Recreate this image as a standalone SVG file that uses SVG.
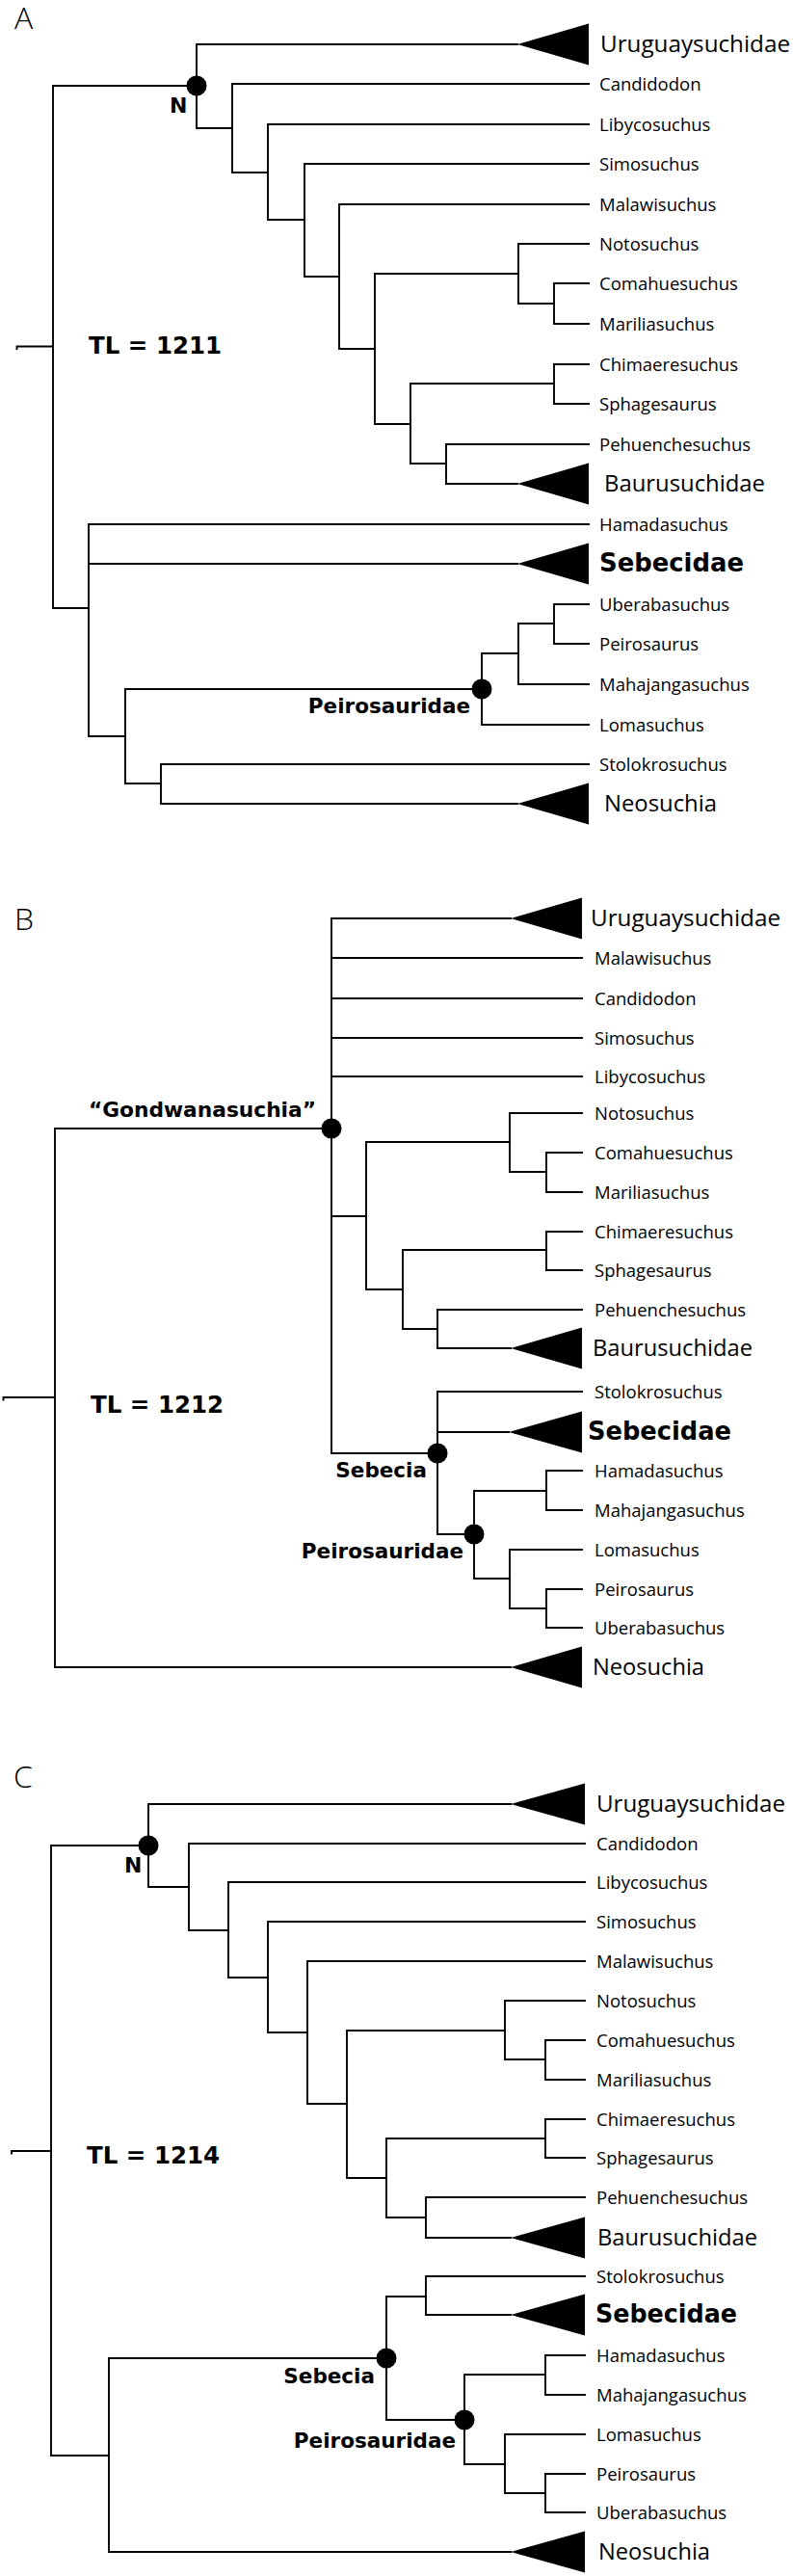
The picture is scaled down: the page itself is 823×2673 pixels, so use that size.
<svg xmlns="http://www.w3.org/2000/svg" width="823" height="2673" viewBox="0 0 823 2673">
<style>
.br{fill:none;stroke:#000;stroke-width:1.9;stroke-linecap:square}
.tri{fill:#000}
.dot{fill:#000}
.lf{font-family:"Open Sans","DejaVu Sans",sans-serif;font-size:18.5px;fill:#000}
.big{font-family:"Open Sans","DejaVu Sans",sans-serif;font-size:24px;fill:#000}
.bd{font-family:"DejaVu Sans","Liberation Sans",sans-serif;font-weight:bold;fill:#000}
.cl{font-size:21.5px}
.pl{font-family:"Open Sans","DejaVu Sans",sans-serif;font-size:32px;font-weight:300;fill:#000}
</style>
<rect width="823" height="2673" fill="#fff"/>

<!-- ================= PANEL A ================= -->
<g id="connectors-A" class="br">
<path d="M17.5,362 V359.5 H55 M55,89 V631 M55,89 H204 M55,631 H92"/>
<path d="M204,46 V133 M204,46 H537 M204,133 H241"/>
<path d="M241,87 V179 M241,87 H611 M241,179 H278"/>
<path d="M278,129 V228 M278,129 H611 M278,228 H316"/>
<path d="M316,170 V287 M316,170 H611 M316,287 H352"/>
<path d="M352,212 V362 M352,212 H611 M352,362 H389"/>
<path d="M389,284 V440 M389,284 H538 M389,440 H426"/>
<path d="M538,253 V315 M538,253 H611 M538,315 H575"/>
<path d="M575,294 V336 M575,294 H611 M575,336 H611"/>
<path d="M426,398 V481 M426,398 H575 M426,481 H463"/>
<path d="M575,378 V419 M575,378 H611 M575,419 H611"/>
<path d="M463,461 V502 M463,461 H611 M463,502 H537"/>
<path d="M92,544 V764 M92,544 H611 M92,585 H537 M92,764 H130"/>
<path d="M130,715 V813 M130,715 H500 M130,813 H167"/>
<path d="M500,678 V752 M500,678 H538 M500,752 H611"/>
<path d="M538,647 V710 M538,647 H575 M538,710 H611"/>
<path d="M575,627 V668 M575,627 H611 M575,668 H611"/>
<path d="M167,793 V834 M167,793 H611 M167,834 H537"/>
</g>
<text class="pl" x="15" y="30">A</text>
<text class="bd" x="92" y="367" font-size="24.5">TL = 1211</text>
<g id="A-node-N"><circle class="dot" cx="204" cy="89" r="10.5"/><text class="bd" x="176" y="117" font-size="22">N</text></g>
<g id="A-node-Peirosauridae"><circle class="dot" cx="500" cy="715" r="10.5"/><text class="bd cl" x="488" y="740" text-anchor="end">Peirosauridae</text></g>
<g id="A-Uruguaysuchidae"><polygon class="tri" points="537,46 611,24.5 611,67.5"/><text class="big" x="623" y="54" textLength="197" lengthAdjust="spacingAndGlyphs">Uruguaysuchidae</text></g>
<g id="A-Candidodon"><text class="lf" x="622" y="93.5">Candidodon</text></g>
<g id="A-Libycosuchus"><text class="lf" x="622" y="135.5">Libycosuchus</text></g>
<g id="A-Simosuchus"><text class="lf" x="622" y="176.5">Simosuchus</text></g>
<g id="A-Malawisuchus"><text class="lf" x="622" y="218.5">Malawisuchus</text></g>
<g id="A-Notosuchus"><text class="lf" x="622" y="259.5">Notosuchus</text></g>
<g id="A-Comahuesuchus"><text class="lf" x="622" y="300.5">Comahuesuchus</text></g>
<g id="A-Mariliasuchus"><text class="lf" x="622" y="342.5">Mariliasuchus</text></g>
<g id="A-Chimaeresuchus"><text class="lf" x="622" y="384.5">Chimaeresuchus</text></g>
<g id="A-Sphagesaurus"><text class="lf" x="622" y="425.5">Sphagesaurus</text></g>
<g id="A-Pehuenchesuchus"><text class="lf" x="622" y="467.5">Pehuenchesuchus</text></g>
<g id="A-Baurusuchidae"><polygon class="tri" points="537,502 611,480.5 611,523.5"/><text class="big" x="627" y="510" textLength="167" lengthAdjust="spacingAndGlyphs">Baurusuchidae</text></g>
<g id="A-Hamadasuchus"><text class="lf" x="622" y="550.5">Hamadasuchus</text></g>
<g id="A-Sebecidae"><polygon class="tri" points="537,585 611,563.5 611,606.5"/><text class="bd" x="622" y="592.5" font-size="26" textLength="150" lengthAdjust="spacingAndGlyphs">Sebecidae</text></g>
<g id="A-Uberabasuchus"><text class="lf" x="622" y="633.5">Uberabasuchus</text></g>
<g id="A-Peirosaurus"><text class="lf" x="622" y="674.5">Peirosaurus</text></g>
<g id="A-Mahajangasuchus"><text class="lf" x="622" y="716.5">Mahajangasuchus</text></g>
<g id="A-Lomasuchus"><text class="lf" x="622" y="758.5">Lomasuchus</text></g>
<g id="A-Stolokrosuchus"><text class="lf" x="622" y="799.5">Stolokrosuchus</text></g>
<g id="A-Neosuchia"><polygon class="tri" points="537,834 611,812.5 611,855.5"/><text class="big" x="627" y="842" textLength="117" lengthAdjust="spacingAndGlyphs">Neosuchia</text></g>

<!-- ================= PANEL B ================= -->
<g id="connectors-B" class="br">
<path d="M3.5,1452.5 V1450 H57 M57,1171 V1730 M57,1171 H344 M57,1730 H530"/>
<path d="M344,953 V1508 M344,953 H530 M344,994 H604 M344,1036 H604 M344,1077 H604 M344,1117 H604 M344,1262 H380 M344,1508 H454"/>
<path d="M380,1185 V1338 M380,1185 H529 M380,1338 H418"/>
<path d="M529,1155 V1216 M529,1155 H604 M529,1216 H567"/>
<path d="M567,1196 V1237 M567,1196 H604 M567,1237 H604"/>
<path d="M418,1297 V1379 M418,1297 H567 M418,1379 H454"/>
<path d="M567,1278 V1318 M567,1278 H604 M567,1318 H604"/>
<path d="M454,1359 V1399 M454,1359 H604 M454,1399 H530"/>
<path d="M454,1444 V1592 M454,1444 H604 M454,1486 H528 M454,1592 H492"/>
<path d="M492,1547 V1638 M492,1547 H567 M492,1638 H529"/>
<path d="M567,1526 V1567 M567,1526 H604 M567,1567 H604"/>
<path d="M529,1608 V1669 M529,1608 H604 M529,1669 H567"/>
<path d="M567,1649 V1689 M567,1649 H604 M567,1689 H604"/>
</g>
<text class="pl" x="15" y="965">B</text>
<text class="bd" x="94" y="1466" font-size="24.5">TL = 1212</text>
<g id="B-node-Gondwanasuchia"><circle class="dot" cx="344" cy="1171" r="10.5"/><text class="bd cl" x="92" y="1159" textLength="236" lengthAdjust="spacingAndGlyphs">“Gondwanasuchia”</text></g>
<g id="B-node-Sebecia"><circle class="dot" cx="454" cy="1508" r="10.5"/><text class="bd cl" x="443" y="1533" text-anchor="end">Sebecia</text></g>
<g id="B-node-Peirosauridae"><circle class="dot" cx="492" cy="1592" r="10.5"/><text class="bd cl" x="481" y="1617" text-anchor="end">Peirosauridae</text></g>
<g id="B-Uruguaysuchidae"><polygon class="tri" points="530,953 604,931.5 604,974.5"/><text class="big" x="613" y="961" textLength="197" lengthAdjust="spacingAndGlyphs">Uruguaysuchidae</text></g>
<g id="B-Malawisuchus"><text class="lf" x="617" y="1000.5">Malawisuchus</text></g>
<g id="B-Candidodon"><text class="lf" x="617" y="1042.5">Candidodon</text></g>
<g id="B-Simosuchus"><text class="lf" x="617" y="1083.5">Simosuchus</text></g>
<g id="B-Libycosuchus"><text class="lf" x="617" y="1123.5">Libycosuchus</text></g>
<g id="B-Notosuchus"><text class="lf" x="617" y="1161.5">Notosuchus</text></g>
<g id="B-Comahuesuchus"><text class="lf" x="617" y="1202.5">Comahuesuchus</text></g>
<g id="B-Mariliasuchus"><text class="lf" x="617" y="1243.5">Mariliasuchus</text></g>
<g id="B-Chimaeresuchus"><text class="lf" x="617" y="1284.5">Chimaeresuchus</text></g>
<g id="B-Sphagesaurus"><text class="lf" x="617" y="1324.5">Sphagesaurus</text></g>
<g id="B-Pehuenchesuchus"><text class="lf" x="617" y="1365.5">Pehuenchesuchus</text></g>
<g id="B-Baurusuchidae"><polygon class="tri" points="530,1399 604,1377.5 604,1420.5"/><text class="big" x="615" y="1407" textLength="166" lengthAdjust="spacingAndGlyphs">Baurusuchidae</text></g>
<g id="B-Stolokrosuchus"><text class="lf" x="617" y="1450.5">Stolokrosuchus</text></g>
<g id="B-Sebecidae"><polygon class="tri" points="528,1486 604,1464.5 604,1507.5"/><text class="bd" x="610" y="1493.5" font-size="26" textLength="149" lengthAdjust="spacingAndGlyphs">Sebecidae</text></g>
<g id="B-Hamadasuchus"><text class="lf" x="617" y="1532.5">Hamadasuchus</text></g>
<g id="B-Mahajangasuchus"><text class="lf" x="617" y="1573.5">Mahajangasuchus</text></g>
<g id="B-Lomasuchus"><text class="lf" x="617" y="1614.5">Lomasuchus</text></g>
<g id="B-Peirosaurus"><text class="lf" x="617" y="1655.5">Peirosaurus</text></g>
<g id="B-Uberabasuchus"><text class="lf" x="617" y="1695.5">Uberabasuchus</text></g>
<g id="B-Neosuchia"><polygon class="tri" points="530,1730 604,1708.5 604,1751.5"/><text class="big" x="615" y="1738" textLength="116" lengthAdjust="spacingAndGlyphs">Neosuchia</text></g>

<!-- ================= PANEL C ================= -->
<g id="connectors-C" class="br">
<path d="M12,2234.5 V2232 H53 M53,1915 V2548 M53,1915 H154 M53,2548 H113"/>
<path d="M154,1872 V1958 M154,1872 H530 M154,1958 H196"/>
<path d="M196,1913 V2003 M196,1913 H607 M196,2003 H237"/>
<path d="M237,1953 V2052 M237,1953 H607 M237,2052 H278"/>
<path d="M278,1994 V2109 M278,1994 H607 M278,2109 H319"/>
<path d="M319,2035 V2183 M319,2035 H607 M319,2183 H360"/>
<path d="M360,2107 V2260 M360,2107 H524 M360,2260 H401"/>
<path d="M524,2076 V2137 M524,2076 H607 M524,2137 H566"/>
<path d="M566,2117 V2158 M566,2117 H607 M566,2158 H607"/>
<path d="M401,2219 V2301 M401,2219 H566 M401,2301 H442"/>
<path d="M566,2199 V2239 M566,2199 H607 M566,2239 H607"/>
<path d="M442,2280 V2322 M442,2280 H607 M442,2322 H530"/>
<path d="M113,2447 V2648 M113,2447 H401 M113,2648 H530"/>
<path d="M401,2383 V2511 M401,2383 H442 M401,2511 H482"/>
<path d="M442,2362 V2402 M442,2362 H607 M442,2402 H530"/>
<path d="M482,2464 V2557 M482,2464 H566 M482,2557 H524"/>
<path d="M566,2444 V2485 M566,2444 H607 M566,2485 H607"/>
<path d="M524,2526 V2587 M524,2526 H607 M524,2587 H566"/>
<path d="M566,2567 V2607 M566,2567 H607 M566,2607 H607"/>
</g>
<text class="pl" x="14" y="1855">C</text>
<text class="bd" x="90" y="2245" font-size="24.5">TL = 1214</text>
<g id="C-node-N"><circle class="dot" cx="154" cy="1915" r="10.5"/><text class="bd" x="129" y="1943" font-size="22">N</text></g>
<g id="C-node-Sebecia"><circle class="dot" cx="401" cy="2447" r="10.5"/><text class="bd cl" x="389" y="2473" text-anchor="end">Sebecia</text></g>
<g id="C-node-Peirosauridae"><circle class="dot" cx="482" cy="2511" r="10.5"/><text class="bd cl" x="473" y="2540" text-anchor="end">Peirosauridae</text></g>
<g id="C-Uruguaysuchidae"><polygon class="tri" points="530,1872 607,1850.5 607,1893.5"/><text class="big" x="619" y="1880" textLength="196" lengthAdjust="spacingAndGlyphs">Uruguaysuchidae</text></g>
<g id="C-Candidodon"><text class="lf" x="619" y="1919.5">Candidodon</text></g>
<g id="C-Libycosuchus"><text class="lf" x="619" y="1959.5">Libycosuchus</text></g>
<g id="C-Simosuchus"><text class="lf" x="619" y="2000.5">Simosuchus</text></g>
<g id="C-Malawisuchus"><text class="lf" x="619" y="2041.5">Malawisuchus</text></g>
<g id="C-Notosuchus"><text class="lf" x="619" y="2082.5">Notosuchus</text></g>
<g id="C-Comahuesuchus"><text class="lf" x="619" y="2123.5">Comahuesuchus</text></g>
<g id="C-Mariliasuchus"><text class="lf" x="619" y="2164.5">Mariliasuchus</text></g>
<g id="C-Chimaeresuchus"><text class="lf" x="619" y="2205.5">Chimaeresuchus</text></g>
<g id="C-Sphagesaurus"><text class="lf" x="619" y="2245.5">Sphagesaurus</text></g>
<g id="C-Pehuenchesuchus"><text class="lf" x="619" y="2286.5">Pehuenchesuchus</text></g>
<g id="C-Baurusuchidae"><polygon class="tri" points="530,2322 607,2300.5 607,2343.5"/><text class="big" x="620" y="2330" textLength="166" lengthAdjust="spacingAndGlyphs">Baurusuchidae</text></g>
<g id="C-Stolokrosuchus"><text class="lf" x="619" y="2368.5">Stolokrosuchus</text></g>
<g id="C-Sebecidae"><polygon class="tri" points="530,2402 607,2380.5 607,2423.5"/><text class="bd" x="618" y="2409.5" font-size="26" textLength="147" lengthAdjust="spacingAndGlyphs">Sebecidae</text></g>
<g id="C-Hamadasuchus"><text class="lf" x="619" y="2450.5">Hamadasuchus</text></g>
<g id="C-Mahajangasuchus"><text class="lf" x="619" y="2491.5">Mahajangasuchus</text></g>
<g id="C-Lomasuchus"><text class="lf" x="619" y="2532.5">Lomasuchus</text></g>
<g id="C-Peirosaurus"><text class="lf" x="619" y="2573.5">Peirosaurus</text></g>
<g id="C-Uberabasuchus"><text class="lf" x="619" y="2613.5">Uberabasuchus</text></g>
<g id="C-Neosuchia"><polygon class="tri" points="530,2648 607,2626.5 607,2669.5"/><text class="big" x="621" y="2656" textLength="116" lengthAdjust="spacingAndGlyphs">Neosuchia</text></g>
</svg>
